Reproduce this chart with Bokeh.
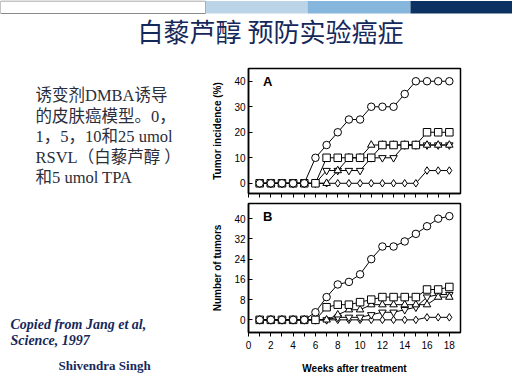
from bokeh.plotting import figure
from bokeh.layouts import column, row
from bokeh.models import Label, FixedTicker
from bokeh.core.properties import value
from bokeh.embed import file_html
from bokeh.resources import INLINE

# ---------------- data ----------------
weeks = [1, 2, 3, 4, 5, 6, 7, 8, 9, 10, 11, 12, 13, 14, 15, 16, 17, 18]

# Panel A: tumor incidence (%)
a_circle = [0, 0, 0, 0, 0, 10, 15, 20, 25, 25, 30, 30, 30, 35, 40, 40, 40, 40]
a_square = [0, 0, 0, 0, 0, 0, 10, 10, 10, 10, 10, 15, 15, 15, 15, 20, 20, 20]
a_triangle = [0, 0, 0, 0, 0, 0, 0, 5, 10, 10, 15, 15, 15, 15, 15, 15, 15, 15]
a_invtri = [0, 0, 0, 0, 0, 0, 5, 5, 5, 5, 10, 10, 10, 15, 15, 15, 15, 15]
a_diamond = [0, 0, 0, 0, 0, 0, 0, 0, 0, 0, 0, 0, 0, 0, 0, 5, 5, 5]

# Panel B: number of tumors
b_circle = [0, 0, 0, 0, 0, 3, 9, 14, 15, 18, 24, 29, 29, 31, 34, 37, 40, 41]
b_square = [0, 0, 0, 0, 0, 0, 5, 6, 6, 7, 8, 9, 9, 9, 9, 12, 12, 13]
b_triangle = [0, 0, 0, 0, 0, 0, 0, 2, 4, 4, 6, 6, 6, 6, 6, 6, 9, 9]
b_invtri = [0, 0, 0, 0, 0, 0, 0, 1, 1, 1, 2, 3, 3, 4, 5, 9, 10, 10]
b_diamond = [0, 0, 0, 0, 0, 0, 0, 0, 0, 0, 0, 0, 0, 0, 0, 1, 1, 1]

a_yticks = [0, 10, 20, 30, 40]
b_yticks = [0, 8, 16, 24, 32, 40]
x_ticks = list(range(0, 19))
x_labels = {t: (str(t) if t % 2 == 0 else "") for t in x_ticks}

title_text = "白藜芦醇 预防实验癌症"
body_lines = ["诱变剂DMBA诱导", "的皮肤癌模型。0，", "1，5，10和25 umol", "RSVL（白藜芦醇 ）", "和5 umol  TPA"]
credit_lines = ["Copied from Jang et al,", "Science, 1997"]
author = "Shivendra Singh"

# band decoration (slide header)
band_left = [0, 205, 307, 410]
band_right = [205, 307, 410, 512]
band_colors = ["#ffffff", "#bcd4e8", "#86b6dc", "#0c3263"]

NAVY = "#15285a"
TEXT = "#2a2d3a"

# ---------------- header ----------------
head = figure(width=512, height=58, x_range=(0, 512), y_range=(58, 0),
              output_backend="svg", toolbar_location=None, min_border=0)
head.axis.visible = False
head.grid.visible = False
head.outline_line_color = None
head.quad(left=band_left, right=band_right, top=[0.5] * 4, bottom=[13] * 4,
          fill_color=band_colors, line_color=["#8a8a8a", None, None, None])
head.text(x=[270], y=[30], text=[title_text], text_align="center",
          text_baseline="middle", text_font=value("Noto Sans CJK SC"),
          text_font_size="26px", text_color=NAVY)

# ---------------- left text panel ----------------
left = figure(width=208, height=326, x_range=(0, 208), y_range=(326, 0),
              output_backend="svg", toolbar_location=None, min_border=0)
left.axis.visible = False
left.grid.visible = False
left.outline_line_color = None
left.text(x=[35] * len(body_lines), y=[37 + 20.5 * i for i in range(len(body_lines))],
          text=body_lines, text_baseline="middle",
          text_font=value("'Liberation Serif', 'Noto Sans CJK SC'"),
          text_font_size="16.5px", text_color=TEXT)
left.text(x=[10, 10], y=[266, 282], text=credit_lines, text_baseline="middle",
          text_font=value("Liberation Serif"), text_font_style="bold italic",
          text_font_size="14px", text_color=NAVY)
left.text(x=[58], y=[307], text=[author], text_baseline="middle",
          text_font=value("Liberation Serif"), text_font_style="bold",
          text_font_size="13px", text_color=NAVY)


def make_panel(h, yr, yticks, ylabel, series, letter, bt, bb, show_x):
    p = figure(width=304, height=h, x_range=(0, 19), y_range=yr,
               output_backend="svg", toolbar_location=None,
               min_border_left=40, min_border_right=52,
               min_border_top=bt, min_border_bottom=bb)
    p.grid.visible = False
    p.outline_line_color = "black"
    p.outline_line_width = 1.5
    p.xaxis.ticker = FixedTicker(ticks=x_ticks)
    p.yaxis.ticker = FixedTicker(ticks=yticks)
    for ax in (p.xaxis, p.yaxis):
        ax.axis_line_color = "black"
        ax.axis_line_width = 1.5
        ax.major_tick_line_color = "black"
        ax.minor_tick_line_color = None
        ax.major_label_text_font = "Liberation Sans"
        ax.major_label_text_font_size = "10px"
        ax.major_label_text_color = "black"
        ax.axis_label_text_font = "Liberation Sans"
        ax.axis_label_text_font_style = "bold"
        ax.axis_label_text_font_size = "10px"
        ax.axis_label_text_color = "black"
    p.yaxis.major_tick_in = 4
    p.yaxis.major_tick_out = 0
    p.yaxis.major_label_standoff = 3
    p.yaxis.axis_label = ylabel
    p.yaxis.axis_label_standoff = 8
    p.xaxis.major_tick_in = 0
    p.xaxis.major_tick_out = 4
    if show_x:
        p.xaxis.major_label_overrides = x_labels
        p.xaxis.axis_label = "Weeks after treatment"
        p.xaxis.major_label_standoff = 4
        p.xaxis.axis_label_standoff = 11
    else:
        p.xaxis.major_label_overrides = {t: "" for t in x_ticks}
        p.xaxis.major_label_text_font_size = "1px"
        p.xaxis.major_label_standoff = 0
    for vals, marker in series:
        p.line(weeks, vals, line_color="black", line_width=1)
        p.scatter(weeks, vals, marker=marker, size=7.5, fill_color="white",
                  line_color="black", line_width=1)
    p.add_layout(Label(x=1.3, y=yr[1] - 0.1 * (yr[1] - yr[0]), text=letter,
                       text_font="Liberation Sans", text_font_style="bold",
                       text_font_size="13px", text_baseline="middle",
                       text_color="black"))
    return p


pa = make_panel(140, (-4, 45), a_yticks, "Tumor incidence (%)",
                [(a_diamond, "diamond"), (a_invtri, "inverted_triangle"),
                 (a_triangle, "triangle"), (a_square, "square"),
                 (a_circle, "circle")], "A", 10, 5, False)
pb = make_panel(186, (-5, 46), b_yticks, "Number of tumors",
                [(b_diamond, "diamond"), (b_invtri, "inverted_triangle"),
                 (b_triangle, "triangle"), (b_square, "square"),
                 (b_circle, "circle")], "B", 5, 52, True)

layout = column(head, row(left, column(pa, pb, spacing=0), spacing=0), spacing=0)

open("out.html", "w").write(file_html(layout, INLINE))
